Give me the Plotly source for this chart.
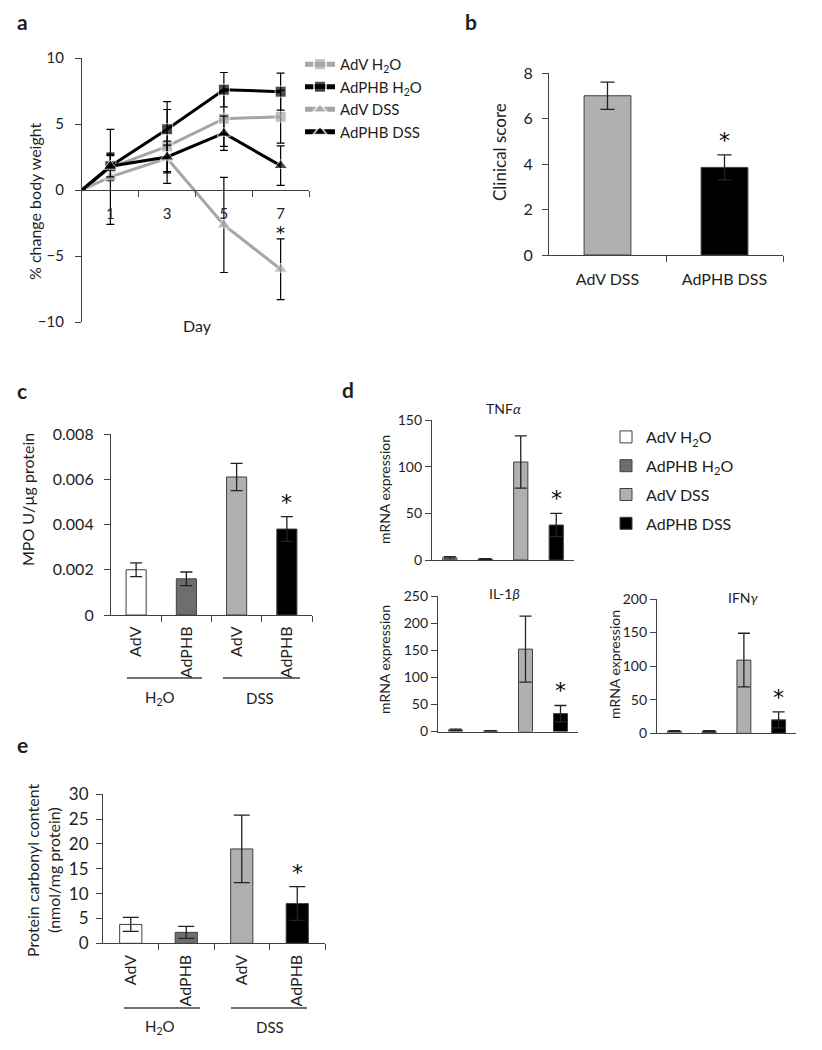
import plotly.graph_objects as go

W, H = 822, 1050
OFF = 8  # the page body margin shifts the figure by 8 px


def px(x):
    return (x - OFF) / W


def py(y):
    return 1 - (y - OFF) / H


FONT = "Lato"
TXT = "#1e1e1e"
AX = "#404040"

# ---------------- data ----------------
# Panel a: % change body weight
days = [0, 1, 3, 5, 7]
day_ticks = [1, 3, 5, 7]
day_minor = [2, 4, 6, 8]
adv_h2o = [0, 1.7, 3.3, 5.4, 5.55]
adv_h2o_err = [None, 1.0, 2.8, 2.1, 2.0]
adphb_h2o = [0, 1.8, 4.6, 7.6, 7.45]
adphb_h2o_err = [None, 1.0, 2.1, 1.3, 1.4]
adv_dss = [0, 1.0, 2.4, -2.65, -6.0]
adv_dss_err = [None, 3.6, 1.0, 3.6, 2.3]
adphb_dss = [0, 1.8, 2.5, 4.3, 1.85]
adphb_dss_err = [None, 0.8, 1.2, 1.3, 1.5]
a_yticks = [-10, -5, 0, 5, 10]

# Panel b: clinical score
clin_groups = ["AdV DSS", "AdPHB DSS"]
clin_score = [7.0, 3.85]
clin_err = [0.6, 0.55]

# Groups for c, d, e
groups = ["AdV H<sub>2</sub>O", "AdPHB H<sub>2</sub>O", "AdV DSS", "AdPHB DSS"]
short_labels = ["AdV", "AdPHB", "AdV", "AdPHB"]
treatments = ["H<sub>2</sub>O", "DSS"]

# Panel c: MPO
mpo = [0.0020, 0.0016, 0.0061, 0.0038]
mpo_err = [0.0003, 0.0003, 0.0006, 0.00055]
mpo_ticks = [0, 0.002, 0.004, 0.006, 0.008]
mpo_ticktext = ["0", "0.002", "0.004", "0.006", "0.008"]

# Panel d: mRNA expression
tnf = [2.5, 1.0, 105, 37.5]
tnf_err = [1.2, 0.5, 28, 12.5]
il1b = [3.0, 1.0, 152, 33]
il1b_err = [1.5, 0.5, 61, 15]
ifng = [3.0, 3.0, 109, 20]
ifng_err = [1.0, 1.0, 40, 12]

# Panel e: protein carbonyl content
carb = [3.8, 2.2, 19.0, 8.0]
carb_err = [1.4, 1.2, 6.8, 3.4]

colors = ["#FFFFFF", "#6E6E6E", "#B0B0B0", "#000000"]
LINE_GRAY = "#A6A6A6"

idx = list(range(len(groups)))
minor_bounds = [i + 0.5 for i in idx]

fig = go.Figure()

# ---------------- panel a ----------------
series_a = [
    ("AdV H<sub>2</sub>O", adv_h2o, adv_h2o_err, LINE_GRAY, "square", 11),
    ("AdPHB H<sub>2</sub>O", adphb_h2o, adphb_h2o_err, "#000000", "square", 11),
    ("AdV DSS", adv_dss, adv_dss_err, LINE_GRAY, "triangle-up", 12),
    ("AdPHB DSS", adphb_dss, adphb_dss_err, "#000000", "triangle-up", 12),
]
for i, (name, vals, errs, col, sym, sz) in enumerate(series_a):
    fig.add_trace(go.Scatter(
        x=days, y=vals, name=name, mode="lines+markers",
        line=dict(color=col, width=3),
        marker=dict(symbol=sym, size=[0] + [sz] * (len(days) - 1), color=col),
        error_y=dict(type="data", array=errs, visible=True, color="#000000",
                     thickness=1.2, width=4),
        xaxis="x", yaxis="y", legend="legend", legendgroup=f"a{i}",
        cliponaxis=False,
    ))

# ---------------- panel b ----------------
fig.add_trace(go.Bar(
    x=list(range(len(clin_groups))), y=clin_score, width=0.4,
    marker=dict(color=["#B0B0B0", "#000000"], line=dict(color=AX, width=1)),
    error_y=dict(type="data", array=clin_err, color="#222222", thickness=1.3, width=7),
    xaxis="x2", yaxis="y2", showlegend=False,
))


def add_bars(vals, errs, xa, ya, legend_on=False, ew=6):
    for i in idx:
        fig.add_trace(go.Bar(
            x=[i], y=[vals[i]], width=0.4, name=groups[i],
            marker=dict(color=colors[i], line=dict(color=AX, width=1)),
            error_y=dict(type="data", array=[errs[i]], color="#222222",
                         thickness=1.3, width=ew),
            xaxis=xa, yaxis=ya, showlegend=legend_on,
            legend="legend2", legendgroup=f"d{i}",
        ))


add_bars(mpo, mpo_err, "x3", "y3", ew=6)
add_bars(tnf, tnf_err, "x4", "y4", legend_on=True, ew=6)
add_bars(il1b, il1b_err, "x5", "y5", ew=6)
add_bars(ifng, ifng_err, "x6", "y6", ew=6)
add_bars(carb, carb_err, "x7", "y7", ew=8)


# ---------------- axes ----------------
def yax(standoff, **kw):
    d = dict(showline=True, linecolor=AX, linewidth=1.2, ticks="outside",
             ticklen=6, tickcolor=AX, showgrid=False, zeroline=False,
             color=TXT, ticklabelstandoff=standoff)
    d.update(kw)
    return d


common_x = dict(showline=True, linecolor=AX, linewidth=1.2, showgrid=False,
                zeroline=False, color=TXT)

a_dom_y = [py(322), py(58)]
layout = dict(
    width=W, height=H, autosize=False,
    margin=dict(l=0, r=0, t=0, b=0, autoexpand=False),
    paper_bgcolor="white", plot_bgcolor="rgba(0,0,0,0)",
    font=dict(family=FONT, color=TXT, size=14),
    barmode="overlay",
    # panel a
    xaxis=dict(domain=[px(82), px(309)], range=[0, 8], anchor="free",
               position=(a_dom_y[0] + a_dom_y[1]) / 2,
               tickmode="array", tickvals=day_ticks, ticks="",
               ticklabelstandoff=10, tickfont=dict(size=15),
               minor=dict(tickmode="array", tickvals=day_minor, ticks="outside",
                          ticklen=6, tickcolor=AX),
               **common_x),
    yaxis=yax(8, domain=a_dom_y, range=[-10, 10], tickmode="array",
              tickvals=a_yticks, tickfont=dict(size=15), anchor="x"),
    # panel b
    xaxis2=dict(domain=[px(549), px(783)], range=[-0.5, 1.5], anchor="y2",
                tickmode="array", tickvals=list(range(len(clin_groups))),
                ticktext=clin_groups, ticks="", ticklabelstandoff=10,
                tickfont=dict(size=16),
                minor=dict(tickmode="array", tickvals=[0.5, 1.5], ticks="outside",
                           ticklen=6, tickcolor=AX),
                **common_x),
    yaxis2=yax(6, domain=[py(255), py(73)], range=[0, 8], dtick=2, anchor="x2",
               tickfont=dict(size=16)),
    # panel c
    xaxis3=dict(domain=[px(111), px(312)], range=[-0.5, 3.5], anchor="y3",
                tickmode="array", tickvals=idx, ticktext=short_labels,
                tickangle=-90, ticks="", ticklabelstandoff=4,
                tickfont=dict(size=16),
                minor=dict(tickmode="array", tickvals=minor_bounds, ticks="outside",
                           ticklen=6, tickcolor=AX),
                **common_x),
    yaxis3=yax(7, domain=[py(615), py(434)], range=[0, 0.008], anchor="x3",
               tickmode="array", tickvals=mpo_ticks, ticktext=mpo_ticktext,
               tickfont=dict(size=16)),
    # panel d: TNF-alpha
    xaxis4=dict(domain=[px(432), px(574)], range=[-0.5, 3.5], anchor="y4",
                showticklabels=False, ticks="", **common_x),
    yaxis4=yax(0, domain=[py(560), py(420)], range=[0, 150], dtick=50, anchor="x4",
               tickfont=dict(size=14)),
    # panel d: IL-1beta
    xaxis5=dict(domain=[px(438), px(578)], range=[-0.5, 3.5], anchor="y5",
                showticklabels=False, ticks="", **common_x),
    yaxis5=yax(0, domain=[py(731.5), py(596)], range=[0, 250], dtick=50, anchor="x5",
               tickfont=dict(size=14)),
    # panel d: IFN-gamma
    xaxis6=dict(domain=[px(657), px(796)], range=[-0.5, 3.5], anchor="y6",
                showticklabels=False, ticks="", **common_x),
    yaxis6=yax(0, domain=[py(733.3), py(599)], range=[0, 200], dtick=50, anchor="x6",
               tickfont=dict(size=14)),
    # panel e
    xaxis7=dict(domain=[px(103), px(325)], range=[-0.5, 3.5], anchor="y7",
                tickmode="array", tickvals=idx, ticktext=short_labels,
                tickangle=-90, ticks="", ticklabelstandoff=4,
                tickfont=dict(size=16),
                minor=dict(tickmode="array", tickvals=minor_bounds, ticks="outside",
                           ticklen=6, tickcolor=AX),
                **common_x),
    yaxis7=yax(4, domain=[py(943.3), py(794.3)], range=[0, 30], dtick=5, anchor="x7",
               tickfont=dict(size=17)),
    legend=dict(x=px(300), y=py(48), xanchor="left", yanchor="top",
                font=dict(size=15, color=TXT), bgcolor="rgba(0,0,0,0)",
                tracegroupgap=0, itemsizing="constant"),
    legend2=dict(x=px(606), y=py(420), xanchor="left", yanchor="top",
                 font=dict(size=16, color=TXT), bgcolor="rgba(0,0,0,0)",
                 tracegroupgap=5),
)
fig.update_layout(**layout)

ann = []


def text(x, y, s, size=15, angle=0, xa="center"):
    ann.append(dict(x=px(x), y=py(y), xref="paper", yref="paper", text=s,
                    showarrow=False, textangle=angle, xanchor=xa, yanchor="middle",
                    font=dict(size=size, color=TXT, family=FONT)))


# panel letters
for lt, (lx, ly) in zip("abcde", [(22, 22), (471, 22), (22, 390), (348, 389), (22, 744)]):
    text(lx, ly, f"<b>{lt}</b>", size=21)

# axis titles
text(34, 201, "% change body weight", size=16, angle=-90)
text(197, 325, "Day", size=16)
text(500, 152, "Clinical score", size=17, angle=-90)
text(27, 500, "MPO U/µg protein", size=16, angle=-90)
text(384, 490, "mRNA expression", size=14, angle=-90)
text(384, 660, "mRNA expression", size=14, angle=-90)
text(614, 665, "mRNA expression", size=14, angle=-90)
text(32, 870, "Protein carbonyl content", size=16, angle=-90)
text(53, 870, "(nmol/mg protein)", size=16, angle=-90)

# subplot titles in d
text(503, 408, "TNF<i>α</i>", size=14)
text(504, 593, "IL-1<i>β</i>", size=14)
text(743, 597, "IFN<i>γ</i>", size=14)

# treatment group labels
text(160, 698, treatments[0], size=15)
text(260, 698, treatments[1], size=15)
text(160, 1027, treatments[0], size=15)
text(270, 1027, treatments[1], size=15)


# significance stars, anchored on the data
def star(xa, ya, x, y, size=22, shift=0):
    ann.append(dict(x=x, y=y, xref=xa, yref=ya, text="*", showarrow=False,
                    yanchor="bottom", yshift=shift,
                    font=dict(size=size, color="#000000", family="DejaVu Sans")))


star("x", "y", days[-1], adv_dss[-1] + adv_dss_err[-1], size=18, shift=-6)
star("x2", "y2", 1, clin_score[1] + clin_err[1])
star("x3", "y3", 3, mpo[3] + mpo_err[3])
star("x4", "y4", 3, tnf[3] + tnf_err[3])
star("x5", "y5", 3, il1b[3] + il1b_err[3])
star("x6", "y6", 3, ifng[3] + ifng_err[3])
star("x7", "y7", 3, carb[3] + carb_err[3])

fig.update_layout(annotations=ann)

# group underline bars in c and e
shapes = []
for (x0, x1, yy) in [(127, 202, 678), (223, 300, 678), (124, 200, 1008), (231, 307, 1008)]:
    shapes.append(dict(type="line", xref="paper", yref="paper",
                       x0=px(x0), x1=px(x1), y0=py(yy), y1=py(yy),
                       line=dict(color=AX, width=1.3)))
fig.update_layout(shapes=shapes)

fig.write_html("out.html")
